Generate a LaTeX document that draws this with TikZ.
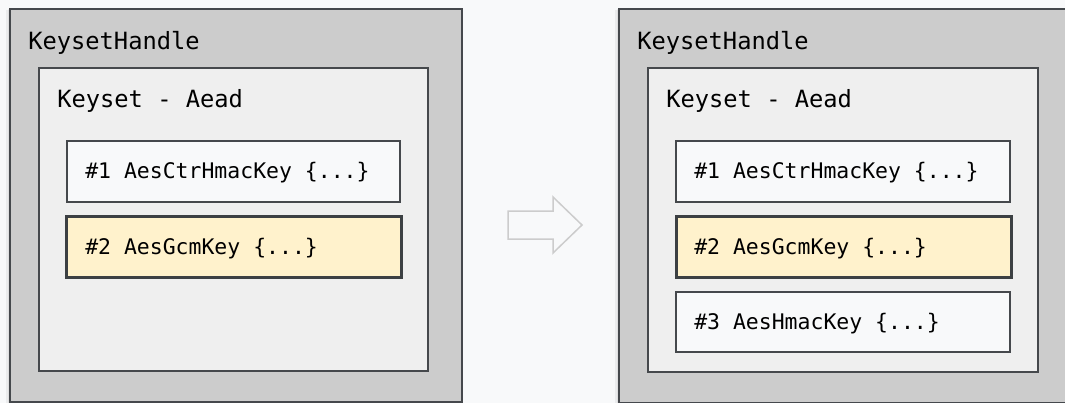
\documentclass[tikz,border=0pt]{standalone}
\usepackage{fontspec}
\setmonofont{DejaVu Sans Mono}
\begin{document}
\begin{tikzpicture}[x=0.75pt,y=-0.75pt,
  boxsize/.style 2 args={minimum width=#1*0.75pt,minimum height=#2*0.75pt,anchor=north west,inner sep=0pt},
  handlebox/.style={draw=edge,line width=1.6pt*0.75,fill=handlefill},
  keysetbox/.style={draw=edge,line width=1.6pt*0.75,fill=keysetfill},
  keybox/.style={draw=edge,line width=1.6pt*0.75,fill=keyfill},
  primarybox/.style={draw=edgedark,line width=3.2pt*0.75,fill=primaryfill},
  headtext/.style={anchor=base west,inner sep=0pt,font=\ttfamily\fontsize{17.8}{20}\selectfont,text=black},
  keytext/.style={anchor=base west,inner sep=0pt,font=\ttfamily\fontsize{16.1}{18}\selectfont,text=black},
  shadow/.style={fill=black,fill opacity=0.05,draw=none},
  arrowshape/.style={draw=arrowgray,line width=1.5pt*0.75,fill=bg,line join=miter}
]
\definecolor{bg}{HTML}{F8F9FA}
\definecolor{edge}{HTML}{45484C}
\definecolor{edgedark}{HTML}{3C4043}
\definecolor{handlefill}{HTML}{CCCCCC}
\definecolor{keysetfill}{HTML}{EFEFEF}
\definecolor{keyfill}{HTML}{F8F9FA}
\definecolor{primaryfill}{HTML}{FFF2CC}
\definecolor{arrowgray}{HTML}{CCCCCC}

\useasboundingbox (0,0) rectangle (1065,403);
\clip (0,0) rectangle (1065,403);
\fill[bg] (0,0) rectangle (1065,403);

% ---- keyset before rotation ----
\fill[shadow] (6,10) rectangle (461,405);
\fill[shadow] (7.5,9) rectangle (461,405);
\node[handlebox,boxsize={452}{393}] (hA) at (9,8) {};
\node[headtext] (hAt) at (28,50) {KeysetHandle};
\node[keysetbox,boxsize={389}{303}] (ksA) at (38,67) {};
\node[headtext] (ksAt) at (57,108) {Keyset - Aead};
\node[keybox,boxsize={333}{61}] (k1A) at (66,140) {};
\node[keytext] (k1At) at (85,178) {\#1 AesCtrHmacKey \{...\}};
\node[primarybox,boxsize={335}{61}] (k2A) at (65,215) {};
\node[keytext] (k2At) at (85,254) {\#2 AesGcmKey \{...\}};

% ---- transition arrow ----
\draw[arrowshape] (508,211) -- (553,211) -- (553,197) -- (582,225) -- (553,253) -- (553,239) -- (508,239) -- cycle;

% ---- keyset after adding a key ----
\fill[shadow] (615,10) rectangle (1080,405);
\fill[shadow] (616.5,9) rectangle (1080,405);
\node[handlebox,boxsize={460}{394}] (hB) at (618,8) {};
\node[headtext] (hBt) at (637,50) {KeysetHandle};
\node[keysetbox,boxsize={390}{304}] (ksB) at (647,67) {};
\node[headtext] (ksBt) at (666,108) {Keyset - Aead};
\node[keybox,boxsize={334}{61}] (k1B) at (675,140) {};
\node[keytext] (k1Bt) at (694,178) {\#1 AesCtrHmacKey \{...\}};
\node[primarybox,boxsize={335}{61}] (k2B) at (674.5,215) {};
\node[keytext] (k2Bt) at (694,254) {\#2 AesGcmKey \{...\}};
\node[keybox,boxsize={334}{60}] (k3B) at (675,291) {};
\node[keytext] (k3Bt) at (694,329) {\#3 AesHmacKey \{...\}};
\end{tikzpicture}
\end{document}
